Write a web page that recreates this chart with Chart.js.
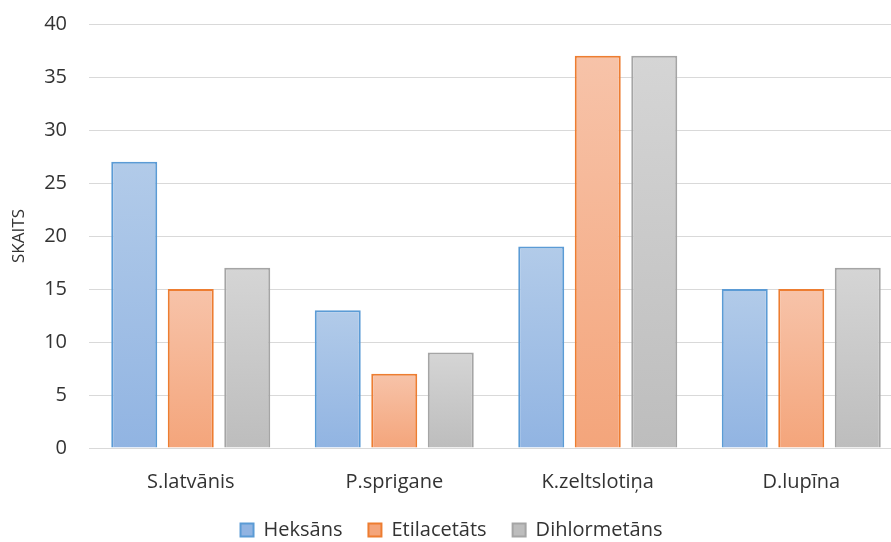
<!DOCTYPE html>
<html>
<head>
<meta charset="utf-8">
<script src="https://cdn.jsdelivr.net/npm/chart.js@4"></script>
<style>
  html, body { margin: 0; padding: 0; background: #fff; overflow: hidden; }
  #wrap { width: 905px; height: 542px; }
</style>
</head>
<body>
<div id="wrap"><canvas id="chart" width="905" height="542"></canvas></div>
<script>
var categories = ['S.latvānis', 'P.sprigane', 'K.zeltslotiņa', 'D.lupīna'];
var heksans = [27, 13, 19, 15];
var etilacetats = [15, 7, 37, 15];
var dihlormetans = [17, 9, 37, 17];
var yTicks = [0, 5, 10, 15, 20, 25, 30, 35, 40];

var textColor = '#333333';
var fontFamily = '"Open Sans", sans-serif';

// light at the top of each bar, darker at its base
function barFill(top, bottom, flat) {
    return function(context) {
        var chart = context.chart;
        if (context.type !== 'data' || !chart.chartArea) return flat;
        var y = chart.scales.y;
        var yTop = y.getPixelForValue(context.raw);
        var yBase = y.getPixelForValue(0);
        var g = chart.ctx.createLinearGradient(0, yTop, 0, yBase);
        g.addColorStop(0, top);
        g.addColorStop(1, bottom);
        return g;
    };
}

var ctx = document.getElementById('chart').getContext('2d');

var chart = new Chart(ctx, {
    type: 'bar',
    data: {
        labels: categories,
        datasets: [{
            label: 'Heksāns',
            data: heksans,
            backgroundColor: barFill('#B2CBE9', '#91B4E2', '#A6C2E7'),
            borderColor: '#5B9BD5',
            borderWidth: 2
        }, {
            label: 'Etilacetāts',
            data: etilacetats,
            backgroundColor: barFill('#F7C3A9', '#F4A57B', '#F6B797'),
            borderColor: '#ED7D31',
            borderWidth: 2
        }, {
            label: 'Dihlormetāns',
            data: dihlormetans,
            backgroundColor: barFill('#D5D5D5', '#BDBDBD', '#CBCBCB'),
            borderColor: '#A5A5A5',
            borderWidth: 2
        }]
    },
    options: {
        responsive: false,
        animation: false,
        categoryPercentage: 0.833,
        barPercentage: 0.814,
        layout: { padding: { top: 24, right: 2, bottom: -8, left: 0 } },
        plugins: {
            tooltip: { enabled: false },
            legend: {
                position: 'bottom',
                labels: {
                    font: { family: fontFamily, size: 20 },
                    color: textColor,
                    boxWidth: 13,
                    boxHeight: 13,
                    padding: 26
                }
            }
        },
        scales: {
            x: {
                afterFit: function(scale) {
                    scale.height = 46;
                    scale.paddingLeft = 0;
                    scale.paddingRight = 0;
                },
                grid: { display: false },
                border: { display: false },
                ticks: {
                    font: { family: fontFamily, size: 20 },
                    color: textColor,
                    padding: 14
                }
            },
            y: {
                min: 0,
                max: 40,
                afterFit: function(scale) {
                    scale.width = 89;
                    scale.paddingTop = 0;
                    scale.paddingBottom = 0;
                },
                afterBuildTicks: function(scale) {
                    scale.ticks = yTicks.map(function(v) { return { value: v }; });
                },
                grid: { color: '#D9D9D9', lineWidth: 1, drawTicks: false },
                border: { display: false },
                ticks: {
                    font: { family: fontFamily, size: 20 },
                    color: textColor,
                    padding: 22
                },
                title: {
                    display: true,
                    text: 'SKAITS',
                    font: { family: fontFamily, size: 17 },
                    color: textColor,
                    padding: { top: 9, bottom: 0 }
                }
            }
        }
    }
});
</script>
</body>
</html>
